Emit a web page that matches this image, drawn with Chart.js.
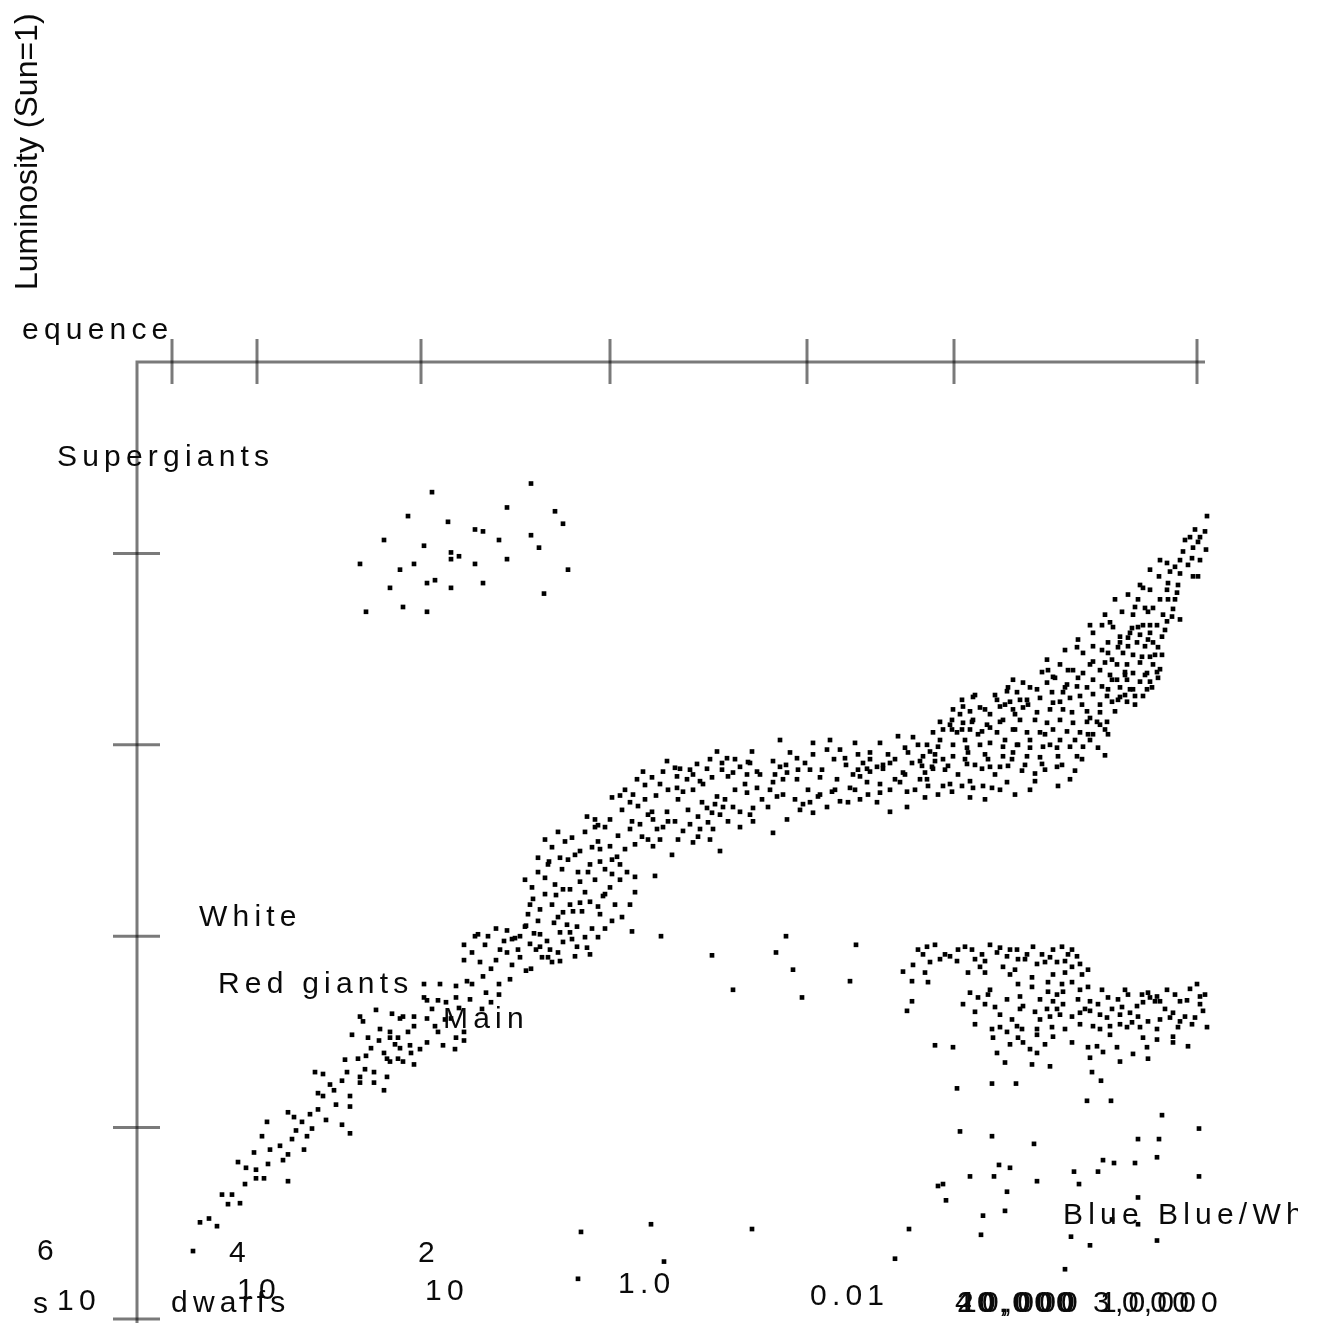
<!DOCTYPE html>
<html>
<head>
<meta charset="utf-8">
<script src="https://cdn.jsdelivr.net/npm/chart.js@4.4.1/dist/chart.umd.min.js"></script>
<style>
  html, body { margin: 0; padding: 0; background: #fff; overflow: hidden; }
  canvas { display: block; }
</style>
</head>
<body>
<canvas id="hr" width="1319" height="1323"></canvas>
<script>
/* --------------- Axis ticks and labels --------------- */
// x: position along the temperature axis, y: log10 luminosity (Sun = 0)
const xTicks = [3.5, 12.0, 28.4, 47.3, 67.0, 81.7, 106.0];
const yTicks = [6, 4, 2, 0, -2];
const lumExponents = ["6", "4", "2"];
const lumLabels = ["10", "10", "10", "1.0", "0.01"];
const tempLabels = ["40,000", "20,000", "10,000", "3,000", "10,000"];
const regionNames = ["Supergiants", "White", "Red giants", "Main", "equence", "dwarfs", "s", "Blue", "Blue/White"];
const yTitle = "Luminosity (Sun=1)";

/* --------------- Stars: [x, log L] --------------- */
const superGiants = [
  [39.4,6.73],[29.5,6.64],[37.0,6.48],[41.8,6.44],[27.1,6.39],[31.1,6.33],[42.6,6.31],[33.8,6.25],
  [34.6,6.23],[24.7,6.14],[36.2,6.14],[39.4,6.19],[28.7,6.08],[40.2,6.06],[31.4,6.01],[31.4,5.94],
  [32.2,5.97],[22.3,5.89],[27.7,5.89],[33.8,5.89],[37.0,5.94],[26.3,5.83],[43.1,5.83],[29.8,5.72],
  [29.0,5.69],[25.3,5.64],[31.4,5.64],[34.6,5.69],[40.7,5.58],[26.6,5.44],[22.9,5.39],[29.0,5.39]
];

const mainSeqLower = [
  [5.6,-1.29],[8.0,-1.03],[7.2,-0.95],[8.5,-0.70],[9.5,-0.70],[10.3,-0.79],[10.1,-0.36],[10.9,-0.42],
  [11.9,-0.44],[11.9,-0.53],[12.7,-0.53],[15.1,-0.56],[11.7,-0.26],[13.3,-0.23],[14.3,-0.19],[15.1,-0.28],
  [14.6,-0.34],[16.7,-0.23],[12.5,-0.09],[13.0,0.06],[15.9,-0.03],[17.0,-0.09],[17.5,-0.01],[15.1,0.16],
  [15.7,0.11],[16.5,0.06],[17.3,0.14],[18.9,0.08],[20.5,0.03],[21.3,-0.06],[18.1,0.36],[18.6,0.33],
  [19.7,0.39],[19.9,0.24],[21.3,0.33],[21.3,0.22],[17.8,0.58],[18.6,0.56],[20.5,0.49],[21.0,0.58],
  [22.3,0.53],[22.3,0.47],[23.7,0.58],[23.7,0.47],[25.0,0.53],[24.7,0.39],[21.5,0.97],[22.1,0.72],
  [22.9,0.75],[23.1,0.94],[23.4,0.83],[24.2,0.91],[24.7,0.78],[25.0,0.72],[25.3,0.69],[26.1,0.72],
  [26.3,0.83],[26.6,0.69],[27.4,0.78],[27.7,0.66],[27.3,0.86],[22.3,1.16],[22.6,1.11],[23.9,1.23],
  [25.5,1.19],[25.3,1.00],[26.3,1.14],[26.6,1.16],[27.1,1.00],[27.7,1.16],[27.7,1.06],[29.0,1.14],
  [29.0,0.89],[30.6,0.86],[25.3,0.94],[26.1,0.94],[28.7,1.50],[30.3,1.50],[31.9,1.48],[28.7,1.36],
  [29.0,1.33],[30.1,1.33],[30.9,1.31],[31.9,1.36],[29.8,1.06],[30.1,1.00],[31.9,0.94],[32.7,0.91],
  [32.7,1.00],[31.4,1.14],[32.2,1.25],[33.0,1.53],[33.5,1.50],[34.6,1.58],[34.9,1.41],[36.2,1.50],
  [36.2,1.39],[35.4,1.31],[32.7,1.91],[32.7,1.75],[33.8,2.00],[35.1,2.00],[33.5,1.83],[34.3,1.73],
  [35.4,1.66],[35.9,1.75],[35.9,2.08],[37.0,2.06],[37.0,1.83],[37.5,1.70],[38.3,1.78],[38.3,2.00],
  [38.9,2.11],[39.7,2.03],[39.9,1.86],[40.5,1.78],[41.0,1.95],[41.5,1.73],[42.1,1.83],[38.9,1.64],
  [39.4,1.66],[37.8,1.98],[36.7,1.95],
  [6.3,-0.99],[9.1,-0.80],[10.8,-0.59],[13.1,-0.38],[15.5,-0.12],[18.1,0.19],[19.3,0.45],[20.8,0.71],
  [22.8,0.61],[24.3,1.03],[25.8,0.87],[28.3,0.82],[29.5,1.24],[30.8,1.13],[31.8,0.82],[33.3,1.34],
  [34.5,1.24],[34.1,2.02],[36.3,1.86],[37.3,1.55],[34.8,1.91]
];

const mainSeqMiddle = [
  [39.1,2.23],[40.1,2.16],[39.6,2.39],[41.7,2.14],[38.8,2.10],[40.3,1.89],[41.3,1.86],[42.6,1.94],
  [44.0,1.89],[45.0,1.88],[42.3,2.04],[43.3,2.04],[44.0,2.10],[45.5,2.08],[46.8,2.08],[42.6,2.25],
  [43.6,2.26],[44.3,2.35],[45.3,2.36],[46.1,2.31],[46.3,2.23],[46.6,2.42],[47.3,2.51],[48.3,2.59],
  [49.0,2.67],[49.8,2.62],[49.8,2.46],[49.3,2.33],[51.8,2.63],[40.1,2.67],[41.1,2.75],[42.5,2.70],
  [43.1,2.80],[44.1,2.67],[45.1,2.67],[44.3,2.57],[42.6,2.49],[41.5,2.93],[42.8,2.99],[44.3,2.89],
  [45.5,2.93],[46.1,2.99],[46.3,2.91],[47.3,2.94],[48.0,2.83],[45.0,3.25],[45.8,3.22],[46.8,3.14],
  [45.8,3.14],[47.5,3.45],[48.3,3.47],[48.5,3.32],[49.3,3.40],[50.1,3.36],[49.5,3.20],[49.3,3.12],
  [49.8,2.96],[50.5,3.04],[51.1,3.01],[51.6,2.94],[52.3,3.01],[52.6,3.14],[53.5,2.85],[51.6,3.22],
  [51.5,3.30],[53.0,3.30],[53.8,3.20],[54.1,3.01],[55.6,2.98],[56.1,3.04],[57.6,3.12],[58.3,2.89],
  [50.0,3.64],[50.6,3.72],[51.5,3.66],[52.6,3.72],[53.0,3.83],[50.8,3.58],[54.0,3.67],[54.3,3.75],
  [55.0,3.64],[55.6,3.69],[56.0,3.80],[56.3,3.62],[57.0,3.75],[57.5,3.66],[58.0,3.93],[58.5,3.81],
  [59.0,3.86],[59.1,3.67],[59.6,3.71],[60.3,3.77],[61.0,3.69],[61.3,3.81],[61.5,3.93],[62.0,3.72],
  [63.6,3.83],[64.3,3.77],[65.0,3.71],[65.3,3.92],[66.0,3.86],[64.3,4.05],[66.8,3.81],[67.6,4.02],
  [67.6,3.90],[69.0,3.95],[69.3,4.05],[70.3,3.95],[70.8,3.86],[71.8,4.02],[71.6,3.69],[72.6,3.81],
  [73.3,3.92],[74.3,4.02],[75.1,3.90],[76.1,4.09],[77.1,3.92],[77.6,4.08],[79.0,4.00],[79.6,4.13],
  [54.0,3.55],[54.6,3.51],[55.6,3.53],[56.5,3.40],[57.0,3.34],[57.5,3.29],[58.0,3.46],[58.3,3.27],
  [58.6,3.35],[59.6,3.35],[60.3,3.30],[61.0,3.50],[61.6,3.34],[61.6,3.20],[62.0,3.55],[63.1,3.35],
  [63.6,3.61],[64.0,3.46],[64.6,3.64],[65.0,3.22],[66.0,3.64],[66.3,3.32],[66.6,3.38],[67.3,3.40],
  [67.6,3.29],[68.1,3.46],[68.3,3.66],[69.0,3.35],[69.5,3.51],[70.0,3.64],[70.3,3.41],[71.1,3.40],
  [72.3,3.43],[73.0,3.61],[74.0,3.40],[74.3,3.50],[75.3,3.30],[75.3,3.53],[76.3,3.61],[77.0,3.35],
  [77.0,3.51],[78.3,3.64],[79.1,3.57],[79.5,3.77],[63.6,3.08],[72.3,3.67],[73.0,3.75],[73.3,3.72],
  [74.0,3.77],[74.6,3.75],[75.3,3.81],[76.6,3.71],[77.5,3.81],[78.3,3.83],[78.8,3.71],[79.8,3.83],
  [38.8,2.59],[39.5,2.51],[40.8,2.44],[41.5,2.33],[42.1,2.20],[43.0,2.12],[43.5,1.97],[44.8,1.99],
  [45.3,1.81],[43.8,1.79],[42.3,1.74],[41.1,1.78],[40.3,2.02],[39.3,1.92],[38.1,1.86],[37.5,1.97],
  [40.8,2.61],[41.8,2.54],[43.3,2.49],[44.8,2.46],[45.8,2.59],[46.8,2.70],[47.5,2.80],[46.3,2.78],
  [45.3,2.75],[43.8,2.85],[42.3,2.82],[41.2,2.78],[40.1,2.82],[40.8,3.01],[42.1,3.09],[43.5,3.03],
  [44.8,3.09],[46.1,3.16],[47.3,3.22],[48.1,3.05],[48.8,2.91],[48.3,2.75],[47.5,2.65],[46.8,2.44],
  [47.8,2.33],[48.5,2.20],[47.5,2.16],[46.1,1.99],[44.5,2.26],[43.3,2.33],[41.9,2.43],[40.3,2.28],
  [39.3,2.33],
  [48.8,3.53],[49.6,3.48],[50.8,3.43],[51.9,3.47],[53.1,3.53],[54.1,3.43],[55.1,3.32],[56.1,3.25],
  [57.1,3.19],[57.8,3.38],[58.8,3.43],[59.8,3.53],[60.8,3.59],[56.6,3.59],[55.3,3.74],[53.8,3.76],
  [52.3,3.59],[51.1,3.27],[50.3,3.17],[52.0,3.12],[53.1,3.20],[54.6,3.10],[55.3,3.17],[56.3,3.12],
  [57.3,3.01],[59.1,3.20],[60.3,3.14],[61.3,3.27],[62.5,3.43],[63.3,3.53],[64.6,3.48],[65.8,3.43],
  [67.1,3.53],[68.3,3.48],[69.8,3.53],[71.3,3.55],[72.1,3.74],[70.9,3.79],[69.7,3.85],[68.5,3.74],
  [67.3,3.74],[66.1,3.74],[64.9,3.79],[63.8,3.69],[62.3,3.69],[61.1,3.82],[59.8,3.85],[58.5,3.74],
  [57.3,3.85]
];

const mainSeqUpper = [
  [107.0,6.39],[107.2,6.28],[106.8,6.23],[106.3,6.17],[105.3,6.17],[106.1,6.12],[104.6,6.02],[105.6,6.06],
  [106.9,6.04],[105.5,5.95],[106.3,5.93],[105.1,5.88],[103.0,5.90],[103.8,5.86],[103.3,5.81],[104.3,5.79],
  [102.2,5.76],[105.6,5.76],[106.1,5.76],[103.1,5.69],[104.1,5.67],[100.6,5.64],[103.0,5.62],[104.0,5.59],
  [103.1,5.52],[103.8,5.52],[99.8,5.44],[100.8,5.43],[101.6,5.43],[103.6,5.42],[98.5,5.39],[99.6,5.36],
  [102.6,5.36],[103.5,5.34],[103.0,5.29],[104.3,5.31],[97.3,5.28],[97.6,5.23],[96.5,5.25],[100.6,5.25],
  [101.3,5.25],[99.5,5.22],[95.6,5.17],[98.3,5.13],[99.3,5.17],[100.3,5.15],[101.3,5.17],[102.5,5.13],
  [94.0,5.02],[95.6,5.03],[97.1,5.07],[98.3,5.07],[99.1,5.03],[100.0,5.07],[100.8,5.03],[101.6,5.07],
  [102.1,5.02],[94.6,4.96],[97.1,4.96],[98.6,4.96],[99.6,4.94],[100.5,4.92],[101.3,4.92],[91.0,4.89],
  [92.3,4.84],[95.6,4.87],[96.8,4.86],[98.0,4.84],[99.0,4.84],[100.3,4.86],[101.6,4.84],[91.1,4.78],
  [93.1,4.78],[93.6,4.78],[94.6,4.75],[96.3,4.78],[97.3,4.73],[98.8,4.76],[99.6,4.75],[101.0,4.75],
  [102.0,4.76],[91.6,4.71],[95.6,4.68],[97.5,4.68],[98.0,4.68],[99.0,4.68],[100.3,4.66],[101.3,4.66],
  [102.1,4.70],[87.6,4.68],[88.6,4.65],[91.0,4.65],[93.0,4.63],[94.0,4.61],[95.0,4.60],[96.5,4.61],
  [98.3,4.60],[99.6,4.58],[101.0,4.58],[90.0,4.58],[87.0,4.56],[88.0,4.55],[91.5,4.55],[92.6,4.55],
  [94.3,4.51],[95.6,4.53],[97.0,4.51],[98.3,4.50],[99.8,4.51],[100.6,4.51],[82.5,4.47],[83.6,4.50],
  [86.0,4.47],[87.3,4.45],[89.0,4.47],[91.6,4.44],[97.5,4.45],[99.0,4.45],[81.6,4.37],[82.6,4.40],
  [83.3,4.35],[84.3,4.39],[86.3,4.40],[87.6,4.37],[88.6,4.39],[90.0,4.34],[92.6,4.37],[93.5,4.34],
  [95.0,4.35],[96.3,4.34],[80.3,4.24],[81.5,4.26],[82.6,4.23],[83.6,4.26],[85.0,4.21],[86.6,4.26],
  [88.3,4.26],[89.8,4.26],[91.0,4.23],[92.3,4.26],[93.6,4.23],[95.0,4.24],[96.0,4.24],[97.0,4.24],
  [80.6,4.16],[82.0,4.13],[83.3,4.16],[84.5,4.14],[86.0,4.13],[87.6,4.16],[89.0,4.13],[90.3,4.13],
  [91.6,4.16],[93.0,4.14],[94.3,4.13],[95.6,4.11],[97.1,4.11],[80.1,3.98],[81.6,4.00],[83.0,3.97],
  [84.3,4.00],[85.3,4.02],[86.6,3.98],[88.0,4.00],[89.3,3.97],[90.6,3.98],[92.0,3.97],[93.3,3.98],
  [94.6,3.98],[78.6,3.88],[79.8,3.90],[80.6,3.85],[81.6,3.88],[83.1,3.92],[84.8,3.90],[86.6,3.88],
  [87.6,3.92],[89.0,3.88],[90.3,3.87],[92.1,3.88],[94.0,3.88],[96.8,3.89],[78.5,3.78],[79.6,3.75],
  [81.1,3.78],[83.0,3.80],[84.5,3.75],[85.3,3.77],[86.3,3.77],[87.1,3.78],[88.5,3.73],[89.8,3.70],
  [90.5,3.80],[92.0,3.77],[93.8,3.73],[79.0,3.64],[80.6,3.57],[81.5,3.51],[82.5,3.57],[83.6,3.55],
  [84.6,3.57],[85.5,3.55],[87.0,3.61],[89.8,3.62],[92.1,3.57],[83.3,3.62],
  [71.8,3.53],[73.1,3.48],[74.3,3.59],[75.8,3.64],[76.8,3.69],[77.8,3.53],[78.8,3.45],[80.1,3.48],
  [81.3,3.59],[82.1,3.69],[82.8,3.85],[83.8,3.79],[85.1,3.85],[85.8,3.69],[86.3,3.53],[84.8,3.43],
  [83.3,3.45],[80.8,3.74],[79.3,3.93],[78.1,4.00],[76.8,3.97],[75.8,3.85],[74.6,3.79],[73.3,3.85],
  [72.1,3.90],[80.3,4.05],[81.5,4.16],[82.8,4.05],[84.1,4.11],[85.3,4.18],[86.8,4.05],[87.8,4.16],
  [87.5,3.85],[88.8,3.79],[89.3,3.53],[87.8,3.48],[90.8,3.74],[91.3,4.00],[92.5,3.79],[93.3,3.64],
  [94.5,3.85],[95.3,4.05],[96.1,3.97],[96.8,4.16],
  [86.8,4.42],[87.8,4.32],[89.1,4.42],[90.3,4.49],[91.3,4.37],[92.3,4.45],[93.3,4.49],[94.5,4.42],
  [95.3,4.28],[96.3,4.42],[97.1,4.58],[97.8,4.35],[98.8,4.52],[99.8,4.42],[98.8,4.73],[97.5,4.89],
  [96.5,4.99],[95.3,4.84],[94.1,4.70],[92.8,4.60],[91.8,4.70],[90.5,4.76],[89.3,4.60],[88.3,4.47],
  [87.1,4.60],[85.8,4.52],[84.8,4.37],[83.8,4.52],[82.3,4.32],[81.3,4.21],[98.1,5.02],[99.1,5.12],
  [100.1,5.23],[101.1,5.10],[101.8,4.94],[100.8,4.73],[101.5,4.60],[102.3,4.79],[102.0,5.25],[101.1,5.39],
  [100.1,5.52],[102.3,5.52],[102.8,5.20],[102.5,4.94],[99.3,4.58],[98.1,4.47],[96.3,4.21],[95.1,4.11],
  [93.8,4.05],[92.3,4.05],[90.8,4.11],[89.3,4.05],[88.1,4.00],[86.3,4.24],[85.3,4.32],[83.5,4.24],
  [82.5,4.16],[92.8,4.99],[94.1,5.10],[95.3,5.25],[96.8,5.36],[97.8,5.52],[99.1,5.57],[100.3,5.67],
  [101.3,5.62],[101.3,5.83],[102.3,5.93],[104.8,6.14],[104.3,5.93],[105.8,6.25]
];

const giantClump = [
  [79.0,1.89],[78.6,1.81],[76.6,1.63],[77.6,1.70],[77.5,1.53],[78.8,1.62],[79.3,1.73],[79.1,1.52],
  [80.3,1.76],[81.3,1.79],[82.0,1.74],[82.8,1.89],[83.5,1.86],[83.8,1.76],[84.5,1.81],[84.8,1.74],
  [84.3,1.68],[84.8,1.62],[83.1,1.62],[86.0,1.83],[87.0,1.79],[86.6,1.68],[87.3,1.60],[88.0,1.86],
  [88.1,1.76],[87.8,1.65],[89.0,1.81],[89.6,1.89],[90.5,1.81],[90.8,1.73],[91.6,1.86],[92.5,1.89],
  [92.0,1.73],[92.8,1.74],[93.5,1.86],[94.0,1.79],[93.5,1.68],[92.8,1.62],[91.6,1.60],[95.1,1.65],
  [94.5,1.60],[93.5,1.52],[91.1,1.52],[89.5,1.57],[88.1,1.50],[89.5,1.47],[91.1,1.42],[92.0,1.39],
  [92.6,1.42],[94.3,1.44],[95.1,1.47],[96.5,1.44],[98.8,1.44],[101.1,1.41],[102.0,1.37],[103.0,1.44],
  [106.0,1.50],[107.3,1.48],[83.3,1.41],[84.1,1.36],[85.3,1.44],[87.0,1.34],[88.3,1.37],[82.6,1.29],
  [85.1,1.39],[77.5,1.32],[77.0,1.22],[85.8,1.26],[88.3,1.24],[88.6,1.27],[91.6,1.32],[92.0,1.24],
  [92.6,1.29],[91.0,1.24],[91.3,1.16],[92.3,1.18],[93.5,1.16],[94.3,1.20],[95.3,1.32],[96.1,1.29],
  [95.3,1.22],[96.3,1.18],[97.0,1.15],[97.5,1.24],[98.5,1.26],[98.3,1.18],[99.3,1.20],[100.0,1.27],
  [100.6,1.31],[100.1,1.16],[99.5,1.10],[100.3,1.05],[99.0,1.05],[101.3,1.36],[101.8,1.32],[102.8,1.24],
  [103.6,1.20],[104.3,1.32],[105.0,1.33],[106.3,1.37],[106.3,1.29],[106.6,1.22],[107.5,1.20],[108.3,1.22],
  [108.9,1.31],[108.6,1.13],[109.5,1.05],[107.6,1.10],[107.0,1.05],[105.5,1.08],[104.1,1.05],[102.0,1.03],
  [103.3,1.15],[104.8,1.16],[95.6,1.06],[96.3,1.03],[97.3,1.06],[83.8,1.08],[85.5,1.03],[86.3,1.05],
  [87.0,1.00],[88.0,1.06],[88.5,1.03],[90.0,1.03],[90.0,0.97],[91.5,1.05],[91.6,0.95],[90.3,1.13],
  [85.6,0.94],[88.1,0.94],[88.6,0.89],[93.5,0.89],[95.1,0.84],[96.0,0.85],[96.6,0.79],[98.0,0.84],
  [95.3,0.73],[99.6,0.77],[101.0,0.84],[102.0,0.92],[103.6,0.95],[103.6,0.89],[105.1,0.85],[107.5,0.92],
  [100.6,0.94],[79.8,0.86],[81.6,0.84],[86.0,0.78],[86.8,0.68],[90.0,0.78],[89.5,0.66],[91.3,0.64],
  [98.3,0.69],[101.1,0.72],[95.5,0.58],[96.4,0.49],
  [78.1,1.86],[79.8,1.91],[80.8,1.81],[82.1,1.86],[85.3,1.91],[86.3,1.88],[87.3,1.86],[88.8,1.76],
  [90.0,1.71],[91.3,1.78],[93.1,1.81],[94.3,1.71],[92.5,1.50],[94.1,1.34],[94.8,1.24],[97.1,1.36],
  [98.1,1.34],[99.1,1.39],[100.5,1.39],[102.3,1.32],[103.8,1.39],[105.3,1.45],[106.8,1.39],[107.8,1.34],
  [108.8,1.18],[105.8,1.15],[104.3,1.11],[102.3,1.13],[101.1,1.11],[98.3,1.08],[97.3,0.97],[94.3,1.08],
  [92.8,1.03],[90.8,0.87],[89.3,0.82],[87.3,0.87],[86.3,1.18],[84.8,1.29],[83.8,1.21],[90.3,1.34],
  [89.8,1.21],[87.5,1.13]
];

const scattered = [
  [49.5,2.05],[52.4,2.00],[57.5,1.80],[59.6,1.44],[63.9,1.83],[64.9,2.00],[65.6,1.65],[66.5,1.36],
  [71.3,1.53],[71.9,1.91],[44.4,-1.09],[51.4,-1.01],[61.5,-1.06],[44.1,-1.58],[52.7,-1.40],
  [82.0,0.41],[85.5,0.46],[87.9,0.46],[95.0,0.28],[97.4,0.28],[102.5,0.13],[106.2,-0.01],[82.3,-0.04],
  [85.5,-0.09],[89.7,-0.17],[100.1,-0.12],[102.2,-0.12],[110.2,-0.26],[96.6,-0.34],[97.7,-0.37],[99.8,-0.37],
  [102.0,-0.31],[86.2,-0.39],[87.3,-0.42],[83.3,-0.51],[85.7,-0.51],[90.0,-0.56],[93.7,-0.46],[96.1,-0.46],
  [94.2,-0.59],[106.2,-0.51],[109.7,-0.59],[80.1,-0.61],[80.6,-0.59],[80.9,-0.76],[87.0,-0.67],[86.8,-0.87],
  [84.6,-0.92],[100.1,-0.73],[100.1,-1.01],[97.5,-0.96],[77.2,-1.06],[84.4,-1.12],[93.4,-1.14],[95.3,-1.23],
  [102.0,-1.18],[75.8,-1.37],[92.8,-1.48]
];

/* --------------- Layout of the loose texts (canvas pixels) --------------- */
const nameSpots = [[57,466],[199,926],[218,993],[443,1028],[22,339],[171,1312],[33,1313],[1063,1224],[1158,1224]];
const expSpots = [[37,1260],[229,1262],[418,1262]];
const lumSpots = [[57,1310],[237,1299],[425,1300],[618,1293],[810,1305]];
const tempSpots = [[955,1312],[957,1312],[960,1312],[1093,1312],[1100,1312]];

const toXY = (arr) => arr.map(([x, y]) => ({ x, y }));

/* --------------- Axes drawn through the chart scales --------------- */
const hrAxes = {
  id: "hrAxes",
  beforeDatasetsDraw(chart) {
    const { ctx, scales: { x, y } } = chart;
    const left = x.getPixelForValue(x.min);
    const right = x.getPixelForValue(x.max);
    const top = y.getPixelForValue(y.max);
    ctx.save();
    ctx.strokeStyle = "rgba(0,0,0,0.52)";
    ctx.lineWidth = 3;
    ctx.beginPath();
    ctx.moveTo(right, top);
    ctx.lineTo(left, top);
    ctx.lineTo(left, chart.height + 5);
    ctx.stroke();
    xTicks.forEach((v) => {
      const px = x.getPixelForValue(v);
      ctx.beginPath();
      ctx.moveTo(px, top - 23);
      ctx.lineTo(px, top + 22);
      ctx.stroke();
    });
    yTicks.forEach((v) => {
      const py = y.getPixelForValue(v);
      ctx.beginPath();
      ctx.moveTo(left - 24, py);
      ctx.lineTo(left + 23, py);
      ctx.stroke();
    });
    ctx.restore();
  },
  afterDraw(chart) {
    const ctx = chart.ctx;
    ctx.save();
    ctx.beginPath();
    ctx.rect(0, 0, 1298, chart.height);
    ctx.clip();
    ctx.fillStyle = "#0a0a0a";
    ctx.textBaseline = "alphabetic";
    ctx.textAlign = "left";
    // rotated axis title
    ctx.save();
    ctx.font = '32px "Liberation Sans", Arial, sans-serif';
    ctx.translate(37, 290);
    ctx.rotate(-Math.PI / 2);
    ctx.fillText(yTitle, 0, 0);
    ctx.restore();

    ctx.font = '30px "Liberation Sans", Arial, sans-serif';
    if ("letterSpacing" in ctx) ctx.letterSpacing = "5.2px";
    const put = (texts, spots) => texts.forEach((t, i) => ctx.fillText(t, spots[i][0], spots[i][1]));
    put(regionNames, nameSpots);
    put(lumExponents, expSpots);
    put(lumLabels, lumSpots);
    put(tempLabels, tempSpots);
    ctx.restore();
  },
};

const starStyle = {
  pointStyle: "rect",
  pointRadius: 3.3,
  pointBorderWidth: 0,
  backgroundColor: "#000",
  borderColor: "#000",
  clip: false,
};

new Chart(document.getElementById("hr"), {
  type: "scatter",
  plugins: [hrAxes],
  data: {
    datasets: [
      { label: "Supergiants", data: toXY(superGiants), ...starStyle },
      { label: "Main sequence (lower)", data: toXY(mainSeqLower), ...starStyle },
      { label: "Main sequence (middle)", data: toXY(mainSeqMiddle), ...starStyle },
      { label: "Main sequence (upper)", data: toXY(mainSeqUpper), ...starStyle },
      { label: "Giants", data: toXY(giantClump), ...starStyle },
      { label: "Other", data: toXY(scattered), ...starStyle },
    ],
  },
  options: {
    responsive: false,
    animation: false,
    devicePixelRatio: 1,
    layout: { padding: { left: 137, right: 114, top: 362, bottom: 3 } },
    scales: {
      x: { type: "linear", min: 0, max: 106.8, display: false },
      y: { type: "linear", min: -2, max: 8, display: false },
    },
    plugins: {
      legend: { display: false },
      tooltip: { enabled: false },
    },
  },
});
</script>
</body>
</html>
